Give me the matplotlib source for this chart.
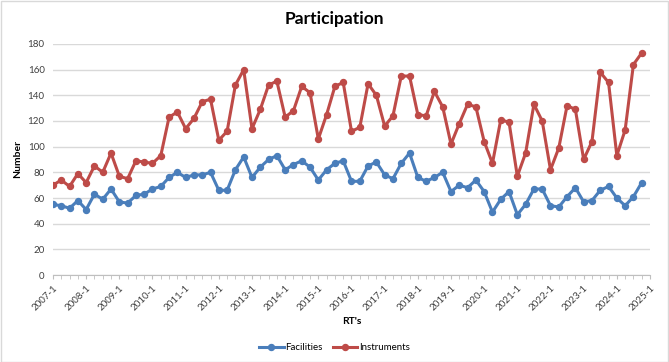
import numpy as np
import matplotlib
matplotlib.use("Agg")
import matplotlib.pyplot as plt
from matplotlib.patches import Rectangle

# Categorias trimestrais (RT's) de 2007-1 até 2025-1
years = list(range(2007, 2026))
categories = [f"{y}-{q}" for y in years for q in range(1, 5)][:73]

facilities = [55, 54, 52, 58, 51, 63, 59, 67, 57, 56, 62, 63,
              67, 69, 76, 80, 76, 78, 78, 80, 66, 66, 82, 92, 76,
              84, 90, 93, 82, 86, 89, 84, 74, 82, 87, 89, 73, 73,
              85, 88, 78, 75, 87, 95, 76, 73, 76, 80, 65, 70, 68,
              74, 65, 49, 59, 65, 47, 55, 67, 67, 54, 53, 61, 68, 57,
              58, 66, 69, 60, 54, 61, 72]

instruments = [70, 74, 69, 79, 72, 85, 80, 95, 77, 75, 89, 88,
               87, 93, 123, 127, 114, 122, 135, 137, 105, 112, 148, 160, 114,
               129, 148, 151, 123, 128, 147, 142, 106, 125, 147, 150, 112, 115,
               149, 140, 116, 124, 155, 155, 125, 124, 143, 131, 102, 118, 133,
               131, 104, 87, 121, 119, 77, 95, 133, 120, 82, 99, 132, 129, 90,
               104, 158, 150, 93, 113, 164, 173]

y_ticks = list(range(0, 181, 20))

plt.rcParams['font.family'] = ['Lato', 'DejaVu Sans']

fig = plt.figure(figsize=(6.69, 3.62), dpi=100)
ax = fig.add_axes([0.0792, 0.2403, 0.8924, 0.6382])

x = np.arange(len(facilities))
ax.plot(x, facilities, color="#4A7EBB", lw=2.2, marker="o", ms=4.3, label="Facilities")
ax.plot(x, instruments, color="#BE4B48", lw=2.2, marker="o", ms=4.3, label="Instruments")

ax.set_xlim(0, len(categories) - 1)
ax.set_ylim(0, 180)
ax.set_yticks(y_ticks)
ax.grid(axis="y", color="#d9d9d9", lw=1)
ax.set_axisbelow(True)

# Rótulos a cada 4 categorias, marcas em todas
ax.set_xticks(np.arange(0, len(categories), 4))
ax.set_xticklabels(categories[::4], rotation=45, ha="right", rotation_mode="anchor")
ax.set_xticks(np.arange(len(categories)), minor=True)
ax.tick_params(axis="x", which="both", length=3, color="#bfbfbf", labelsize=7,
               labelcolor="#404040", pad=3)
ax.tick_params(axis="y", length=0, labelsize=7, labelcolor="#404040", pad=6)

for side in ["top", "right", "left"]:
    ax.spines[side].set_visible(False)
ax.spines["bottom"].set_color("#bfbfbf")

ax.set_xlabel("RT's", fontsize=7.5, fontweight="bold")
ax.set_ylabel("Number", fontsize=7.5, fontweight="bold")
ax.xaxis.set_label_coords(0.5, -0.182)
ax.yaxis.set_label_coords(-0.052, 0.5)

fig.text(0.5, 0.947, "Participation", ha="center", va="center",
         fontsize=12.5, fontweight="bold")

fig.legend(loc="center", bbox_to_anchor=(0.5, 0.04), ncol=2, frameon=False,
           fontsize=7, handlelength=2.5, columnspacing=1.0, handletextpad=0.2)

# Borda do gráfico
fig.patches.append(Rectangle((0.001, 0.001), 0.998, 0.997, transform=fig.transFigure,
                             fill=False, edgecolor="#d9d9d9", lw=1))

fig.savefig("out.png", dpi=100)
